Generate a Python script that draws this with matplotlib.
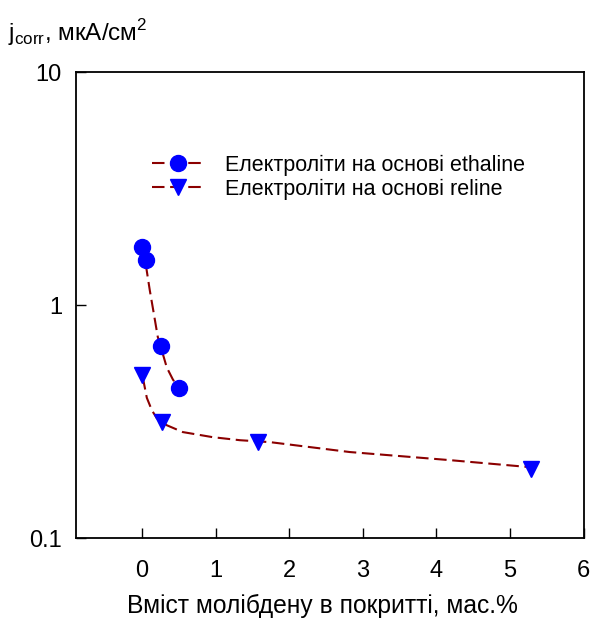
import numpy as np
import matplotlib
matplotlib.use('Agg')
import matplotlib.pyplot as plt

plt.rcParams['font.family'] = ['Liberation Sans', 'DejaVu Sans']
plt.rcParams['mathtext.fontset'] = 'custom'
plt.rcParams['mathtext.rm'] = 'Liberation Sans'

# точки (вміст Mo, мас.% ; j_corr, мкА/см2)
eth_x = [0.0, 0.05, 0.26, 0.50]
eth_y = [1.77, 1.56, 0.67, 0.44]
rel_x = [0.0, 0.27, 1.57, 5.28]
rel_y = [0.50, 0.315, 0.258, 0.198]

# апроксимуючі криві
eth_fit_x = [0.05, 0.105, 0.16, 0.214, 0.268, 0.336, 0.418, 0.486]
eth_fit_y = [1.50, 1.16, 0.92, 0.73, 0.64, 0.54, 0.48, 0.445]
rel_fit_x = [0.01, 0.065, 0.133, 0.20, 0.336, 0.554, 0.96, 1.33, 1.74, 2.82, 4.18, 5.23]
rel_fit_y = [0.49, 0.40, 0.354, 0.327, 0.305, 0.285, 0.271, 0.263, 0.258, 0.234, 0.216, 0.202]

xticks = [0, 1, 2, 3, 4, 5, 6]

fig = plt.figure(figsize=(5.92, 6.22), dpi=100)
ax = fig.add_axes([0.128, 0.135, 0.858, 0.749])

line_col = '#8b0000'
dash = (0, (6, 2.7))

ax.plot(eth_fit_x, eth_fit_y, color=line_col, lw=1.5, linestyle=dash, zorder=2)
ax.plot(rel_fit_x, rel_fit_y, color=line_col, lw=1.5, linestyle=dash, zorder=2)
ax.plot(eth_x, eth_y, 'o', color='#0000ff', ms=11.5, mec='#0000ff', zorder=3)
ax.plot(rel_x, rel_y, 'v', color='#0000ff', ms=11, mec='#0000ff', zorder=3)

# легенда
h1, = ax.plot([], [], color=line_col, lw=1.5, linestyle=dash, marker='o',
              mfc='#0000ff', mec='#0000ff', ms=11.5)
h2, = ax.plot([], [], color=line_col, lw=1.5, linestyle=dash, marker='v',
              mfc='#0000ff', mec='#0000ff', ms=11)
ax.legend([h1, h2], ['Електроліти на основі ethaline', 'Електроліти на основі reline'],
          loc='upper left', bbox_to_anchor=(0.257, 0.751), bbox_transform=fig.transFigure,
          frameon=False, fontsize=15.5, handlelength=2.37, handletextpad=1.0,
          labelspacing=0.12, borderpad=0, borderaxespad=0)

ax.set_yscale('log')
ax.set_ylim(0.1, 10)
ax.set_xlim(-0.9, 6)
ax.set_xticks(xticks)
ax.set_yticks([0.1, 1, 10])
ax.set_yticklabels(['0.1', '1', '10'])
ax.yaxis.set_minor_locator(matplotlib.ticker.NullLocator())
ax.tick_params(direction='in', length=7, width=1, labelsize=17, pad=10, top=False, right=False)
ax.tick_params(axis='x', pad=16)
for s in ax.spines.values():
    s.set_linewidth(1.3)

ax.set_xlabel('Вміст молібдену в покритті, мас.%', fontsize=17.7)
ax.xaxis.set_label_coords(0.486, -0.12)
fig.text(0.013, 0.935, r'j$_{\mathrm{corr}}$, мкА/см$^{2}$', fontsize=17.5)

fig.savefig('out.png', dpi=100)
